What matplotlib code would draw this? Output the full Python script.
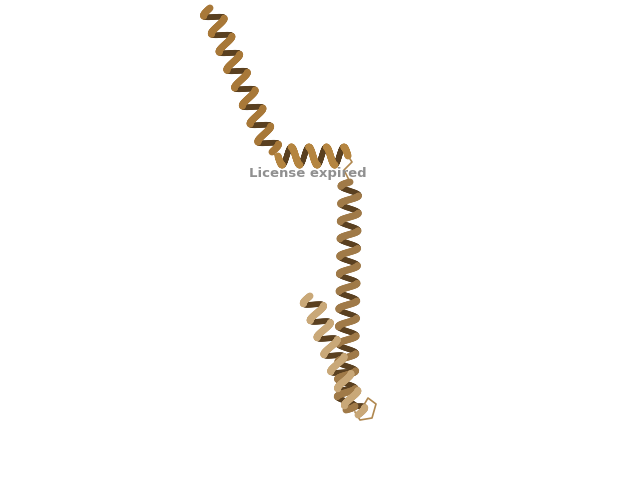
import numpy as np
import matplotlib.pyplot as plt

# helix segments: start (x,y), end (x,y) in pixel coords, colour
seg_starts = [(210, 8), (278, 156), (350, 182), (310, 296)]
seg_ends = [(272, 152), (348, 156), (346, 410), (358, 415)]
seg_colors = ['#a87838', '#b58540', '#a07a48', '#c9a878']
seg_turns = [8, 4, 13, 7]
loop_x = [272, 276, 278]
loop_y = [152, 156, 156]
loop2_x = [348, 352, 344, 350]
loop2_y = [156, 162, 170, 182]
loop3_x = [358, 368, 376, 372, 360, 355]
loop3_y = [415, 398, 404, 418, 420, 412]

fig = plt.figure(figsize=(6.4, 4.8), dpi=100)
ax = fig.add_axes([0, 0, 1, 1])
ax.set_xlim(0, 640)
ax.set_ylim(480, 0)
ax.axis('off')

for (x0, y0), (x1, y1), c, n in zip(seg_starts, seg_ends, seg_colors, seg_turns):
    t = np.linspace(0, 1, 400)
    d = np.array([x1 - x0, y1 - y0], float)
    L = np.hypot(*d)
    u = d / L
    p = np.array([-u[1], u[0]])
    ph = 2 * np.pi * n * t
    xs = x0 + d[0] * t + p[0] * 9 * np.sin(ph)
    ys = y0 + d[1] * t + p[1] * 9 * np.sin(ph)
    front = np.cos(ph) > 0
    for i in range(len(t) - 1):
        col = c if front[i] else '#5a4020'
        ax.plot(xs[i:i + 2], ys[i:i + 2], color=col, lw=5 if front[i] else 4,
                solid_capstyle='round', zorder=3 if front[i] else 2)

for lx, ly in [(loop_x, loop_y), (loop2_x, loop2_y), (loop3_x, loop3_y)]:
    ax.plot(lx, ly, color='#b08850', lw=1.2, zorder=1)

ax.text(308, 174, 'License expired', ha='center', va='center',
        fontsize=9.5, fontweight='bold', color='#909090', zorder=5)
fig.savefig('out.png', dpi=100)
